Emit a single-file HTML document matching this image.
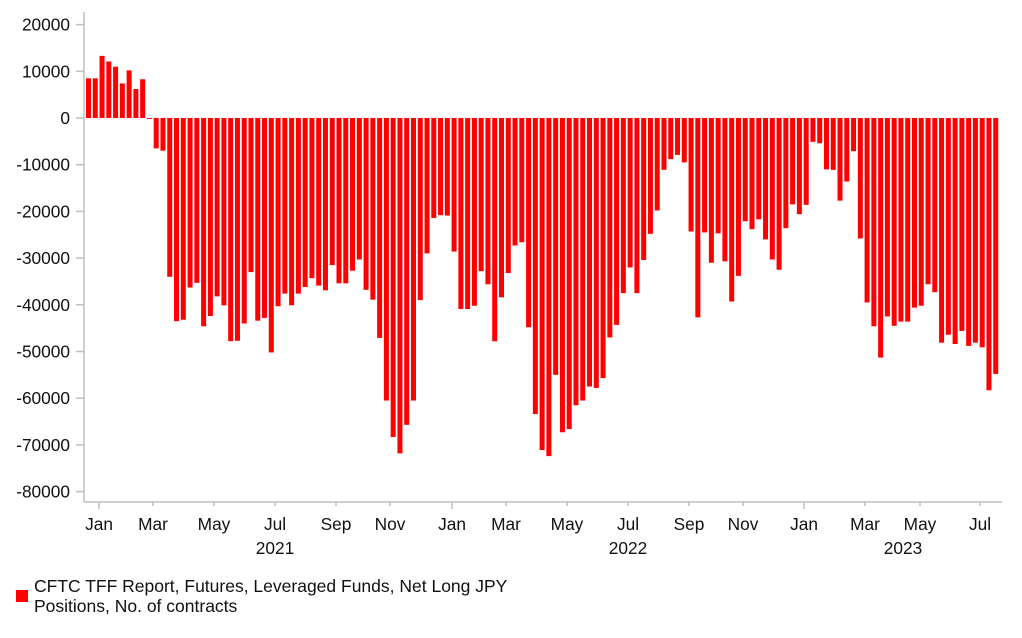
<!DOCTYPE html>
<html><head><meta charset="utf-8"><style>
html,body{margin:0;padding:0;background:#fff;}
svg{display:block;font-family:"Liberation Sans",Arial,sans-serif;}
</style></head><body>
<svg id="c" width="1022" height="638" viewBox="0 0 1022 638" xmlns="http://www.w3.org/2000/svg">
<g id="bars" fill="#ff0000"></g>
<g stroke="#bfbfbf" stroke-width="1.5" fill="none">
<line x1="84" y1="12" x2="84" y2="502"/>
<line x1="84" y1="502" x2="1002" y2="502"/>
</g>
<g id="yt" stroke="#bfbfbf" stroke-width="1.5"></g>
<g id="yl" font-size="17.3" fill="#111" text-anchor="end"></g>
<g id="xt" stroke="#bfbfbf" stroke-width="1.5"></g>
<g id="xl" font-size="17.3" fill="#111" text-anchor="middle"></g>
<rect x="16" y="590" width="12" height="12" fill="#ff0000"/>
<text x="34" y="592" font-size="17.5" fill="#111">CFTC TFF Report, Futures, Leveraged Funds, Net Long JPY</text>
<text x="34" y="612" font-size="17.5" fill="#111">Positions, No. of contracts</text>
</svg>
<script>
var v=[8500,8500,13300,12100,11000,7400,10200,6200,8300,-200,-6500,-7000,-34000,-43500,-43200,-36300,-35300,-44600,-42400,-38200,-40100,-47800,-47700,-44000,-33000,-43400,-42800,-50200,-40300,-37600,-40100,-37600,-36200,-34300,-35900,-36900,-31500,-35400,-35400,-32700,-30300,-36800,-38900,-47100,-60500,-68300,-71800,-65700,-60500,-39000,-29000,-21400,-20800,-20900,-28600,-40900,-40900,-40200,-32800,-35600,-47800,-38400,-33200,-27300,-26600,-44800,-63400,-71100,-72400,-55000,-67300,-66600,-61500,-60500,-57500,-57800,-55700,-47000,-44300,-37500,-32000,-37500,-30400,-24800,-19800,-11100,-8800,-7900,-9500,-24300,-42700,-24500,-31000,-24700,-30700,-39300,-33800,-22100,-23800,-21700,-26000,-30300,-32500,-23600,-18500,-20600,-18600,-5100,-5400,-11000,-11100,-17700,-13600,-7100,-25800,-39500,-44600,-51300,-42500,-44500,-43600,-43600,-40600,-40200,-35600,-37300,-48100,-46400,-48400,-45600,-48800,-48100,-49100,-58300,-54800];
var NS="http://www.w3.org/2000/svg";
function el(p,t,a,txt){var e=document.createElementNS(NS,t);for(var k in a)e.setAttribute(k,a[k]);if(txt!=null)e.textContent=txt;document.getElementById(p).appendChild(e);}
var y0=118,s=46.7/10000,pitch=(1000-86)/v.length,w=pitch*0.74;
v.forEach(function(d,i){var x=86+i*pitch;var h=Math.abs(d)*s;if(h<1)h=1;el("bars","rect",{x:x.toFixed(2),y:(d>=0?y0-h:y0).toFixed(2),width:w.toFixed(2),height:h.toFixed(2)});});
for(var t=20000;t>=-80000;t-=10000){var y=y0-t*s;el("yt","line",{x1:76,y1:y,x2:84,y2:y});el("yl","text",{x:70,y:y+6},String(t));}
var m=[["Jan",99,1],["Mar",153],["May",214],["Jul",275],["Sep",336],["Nov",390],["Jan",452,1],["Mar",506],["May",567],["Jul",628],["Sep",689],["Nov",743],["Jan",804,1],["Mar",865],["May",920],["Jul",980]];
m.forEach(function(a){el("xt","line",{x1:a[1],y1:502,x2:a[1],y2:a[2]?509:506});el("xl","text",{x:a[1],y:530},a[0]);});
[["2021",275],["2022",628],["2023",903]].forEach(function(a){el("xl","text",{x:a[1],y:554},a[0]);});
</script>
</body></html>
